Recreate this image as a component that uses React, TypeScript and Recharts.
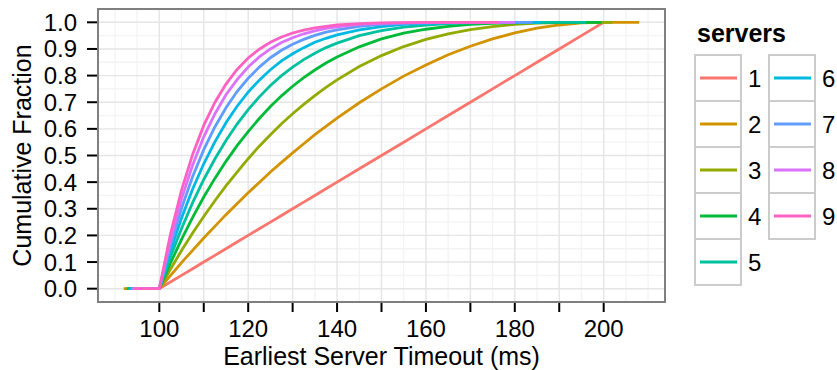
import React from 'react';
import { LineChart, Line, XAxis, YAxis, CartesianGrid } from 'recharts';

// ---- data ----
const seriesNames = ['1', '2', '3', '4', '5', '6', '7', '8', '9'];
const seriesColors = ['#F8766D', '#D39200', '#93AA00', '#00BA38', '#00C19F', '#00B9E3', '#619CFF', '#DB72FB', '#FF61C3'];
const gridX = [100, 102.5, 105, 107.5, 110, 112.5, 115, 117.5, 120, 122.5, 125, 127.5, 130, 132.5, 135, 137.5, 140, 145, 150, 155, 160, 165, 170, 175, 180, 185, 190, 195, 200];
const startX = [97, 92, 92.5, 92.8, 93, 93.3, 93.6, 93.9, 94.2];
const endX = [200, 208, 202, 199.5, 196, 186, 184, 180, 176.5];
const s1 = [0, 0.025, 0.05, 0.075, 0.1, 0.125, 0.15, 0.175, 0.2, 0.225, 0.25, 0.275, 0.3, 0.325, 0.35, 0.375, 0.4, 0.45, 0.5, 0.55, 0.6, 0.65, 0.7, 0.75, 0.8, 0.85, 0.9, 0.95, 1];
const s2 = [0, 0.049, 0.098, 0.144, 0.19, 0.234, 0.278, 0.319, 0.36, 0.399, 0.438, 0.474, 0.51, 0.544, 0.578, 0.609, 0.64, 0.698, 0.75, 0.798, 0.84, 0.878, 0.91, 0.938, 0.96, 0.978, 0.99, 0.998, 1];
const s3 = [0, 0.073, 0.143, 0.209, 0.271, 0.33, 0.386, 0.438, 0.488, 0.535, 0.578, 0.619, 0.657, 0.692, 0.725, 0.756, 0.784, 0.834, 0.875, 0.909, 0.936, 0.957, 0.973, 0.984, 0.992, 0.997, 0.999, 1, 1];
const s4 = [0, 0.096, 0.185, 0.268, 0.344, 0.414, 0.478, 0.537, 0.59, 0.639, 0.684, 0.724, 0.76, 0.792, 0.821, 0.847, 0.87, 0.908, 0.938, 0.959, 0.974, 0.985, 0.992, 0.996, 0.998, 0.999, 1, 1, 1];
const s5 = [0, 0.119, 0.226, 0.323, 0.41, 0.487, 0.556, 0.618, 0.672, 0.72, 0.763, 0.8, 0.832, 0.86, 0.884, 0.905, 0.922, 0.95, 0.969, 0.982, 0.99, 0.995, 0.998, 0.999, 1, 1, 1, 1, 1];
const s6 = [0, 0.141, 0.265, 0.374, 0.469, 0.551, 0.623, 0.685, 0.738, 0.783, 0.822, 0.855, 0.882, 0.905, 0.925, 0.94, 0.953, 0.972, 0.984, 0.992, 0.996, 0.998, 0.999, 1, 1, 1, 1, 1, 1];
const s7 = [0, 0.162, 0.302, 0.421, 0.522, 0.607, 0.679, 0.74, 0.79, 0.832, 0.867, 0.895, 0.918, 0.936, 0.951, 0.963, 0.972, 0.985, 0.992, 0.996, 0.998, 0.999, 1, 1, 1, 1, 1, 1, 1];
const s8 = [0, 0.183, 0.337, 0.464, 0.57, 0.656, 0.728, 0.785, 0.832, 0.87, 0.9, 0.924, 0.942, 0.957, 0.968, 0.977, 0.983, 0.992, 0.996, 0.998, 0.999, 1, 1, 1, 1, 1, 1, 1, 1];
const s9 = [0, 0.204, 0.37, 0.504, 0.613, 0.699, 0.768, 0.823, 0.866, 0.899, 0.925, 0.945, 0.96, 0.971, 0.979, 0.985, 0.99, 0.995, 0.998, 0.999, 1, 1, 1, 1, 1, 1, 1, 1, 1];
const seriesValues = [s1, s2, s3, s4, s5, s6, s7, s8, s9];

const xTicks = [100, 110, 120, 130, 140, 150, 160, 170, 180, 190, 200];
const yTicks = [0, 0.1, 0.2, 0.3, 0.4, 0.5, 0.6, 0.7, 0.8, 0.9, 1.0];
const xMinor = [90, 95, 105, 115, 125, 135, 145, 155, 165, 175, 185, 195, 205, 210];
const yMinor = [-0.05, 0.05, 0.15, 0.25, 0.35, 0.45, 0.55, 0.65, 0.75, 0.85, 0.95, 1.05];

const FONT = '"Liberation Sans", Arial, Helvetica, sans-serif';

function buildSeries(i: number) {
  const pts: { x: number; y: number }[] = [{ x: startX[i], y: 0 }];
  const vals = seriesValues[i];
  gridX.forEach((x, j) => {
    if (x < endX[i]) pts.push({ x, y: vals[j] });
  });
  pts.push({ x: endX[i], y: 1 });
  return pts;
}

const PLOT = { left: 98, top: 9, right: 665, bottom: 302 };

function LegendOverlay() {
  const box = 46;
  const top = 55;
  const cols = [
    { x: 695, labelX: 748, items: [0, 1, 2, 3, 4] },
    { x: 769, labelX: 822, items: [5, 6, 7, 8] },
  ];
  return (
    <g>
      <text x={697} y={42} fontFamily={FONT} fontSize={25} fontWeight="bold" fill="#000">servers</text>
      {cols.map((c, ci) =>
        c.items.map((idx, r) => {
          const y = top + r * box;
          return (
            <g key={`${ci}-${r}`}>
              <rect x={c.x} y={y} width={box} height={box} fill="#fff" stroke="#cccccc" strokeWidth={2} />
              <line x1={c.x + 5} x2={c.x + 42} y1={y + box / 2} y2={y + box / 2} stroke={seriesColors[idx]} strokeWidth={3} />
              <text x={c.labelX} y={y + box / 2} dy="0.36em" fontFamily={FONT} fontSize={24} fill="#000">{seriesNames[idx]}</text>
            </g>
          );
        })
      )}
    </g>
  );
}

export default function App() {
  const tickStyle = { fontSize: 24, fill: '#000', fontFamily: FONT };
  return (
    <div style={{ position: 'relative', width: 837, height: 370, background: '#fff' }}>
      <style>{'body{margin:0;}'}</style>
      <LineChart width={837} height={370} margin={{ top: PLOT.top, right: 837 - PLOT.right, bottom: 0, left: 0 }}>
        <CartesianGrid stroke="#f3f3f3" strokeWidth={1.3} verticalValues={xMinor} horizontalValues={yMinor} />
        <CartesianGrid stroke="#e5e5e5" strokeWidth={1.4} verticalValues={xTicks} horizontalValues={yTicks} />
        <XAxis
          type="number"
          dataKey="x"
          domain={[86.2, 213.8]}
          ticks={xTicks}
          allowDataOverflow
          interval={0}
          tickFormatter={(v: number) => (v % 20 === 0 ? String(v) : '')}
          height={370 - PLOT.bottom}
          axisLine={false}
          tickLine={{ stroke: '#000', strokeWidth: 2 }}
          tickSize={10}
          tickMargin={8}
          tick={tickStyle}
        />
        <YAxis
          type="number"
          dataKey="y"
          domain={[-0.05, 1.05]}
          ticks={yTicks}
          allowDataOverflow
          interval={0}
          tickFormatter={(v: number) => v.toFixed(1)}
          width={PLOT.left}
          axisLine={false}
          tickLine={{ stroke: '#000', strokeWidth: 2 }}
          tickSize={11}
          tickMargin={10}
          tick={tickStyle}
        />
        {seriesNames.map((n, i) => (
          <Line
            key={n}
            data={buildSeries(i)}
            dataKey="y"
            name={n}
            type="linear"
            stroke={seriesColors[i]}
            strokeWidth={2.8}
            dot={false}
            activeDot={false}
            isAnimationActive={false}
          />
        ))}
      </LineChart>
      <svg width={837} height={370} style={{ position: 'absolute', left: 0, top: 0, pointerEvents: 'none' }}>
        <rect x={PLOT.left} y={PLOT.top} width={PLOT.right - PLOT.left} height={PLOT.bottom - PLOT.top} fill="none" stroke="#7f7f7f" strokeWidth={2} />
        <text x={31} y={(PLOT.top + PLOT.bottom) / 2} transform={`rotate(-90 31 ${(PLOT.top + PLOT.bottom) / 2})`} textAnchor="middle" fontFamily={FONT} fontSize={25} fill="#000">Cumulative Fraction</text>
        <text x={(PLOT.left + PLOT.right) / 2} y={365} textAnchor="middle" fontFamily={FONT} fontSize={25} fill="#000">Earliest Server Timeout (ms)</text>
        <LegendOverlay />
      </svg>
    </div>
  );
}
